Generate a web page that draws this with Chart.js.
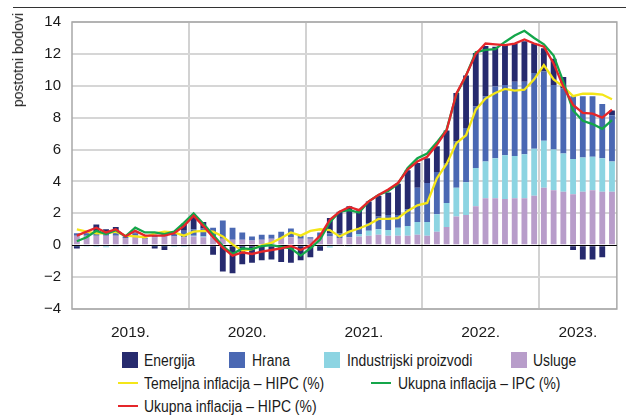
<!DOCTYPE html>
<html>
<head>
<meta charset="utf-8">
<script src="https://cdn.jsdelivr.net/npm/chart.js@4.4.0/dist/chart.umd.min.js"></script>
<style>
  html, body { margin: 0; padding: 0; background: #fff; }
  #wrap { position: relative; width: 626px; height: 416px; overflow: hidden;
          font-family: "Liberation Sans", Arial, sans-serif; color: #1a1a1a; }
  #c { position: absolute; left: 0; top: 0; }
  .topline { position: absolute; left: 13px; right: 0; top: 7px; border-top: 1px solid #333; }
  .ytitle { position: absolute; left: 10px; top: 13px; font-size: 14px; line-height: 16px;
            writing-mode: vertical-rl; transform: rotate(180deg); white-space: nowrap; }
  .leg { position: absolute; font-size: 16px; line-height: 18px; white-space: nowrap;
         transform: scaleX(0.87); transform-origin: 0 50%; }
  .box { position: absolute; width: 16px; height: 16px; }
  .ln { position: absolute; width: 20px; height: 2px; }
</style>
</head>
<body>
<div id="wrap">
  <div class="topline"></div>
  <canvas id="c" width="626" height="345"></canvas>
  <div class="ytitle" id="ytitle"></div>
  <div id="legend"></div>
</div>
<script>
// ---------- data ----------
const years = ['2019.', '2020.', '2021.', '2022.', '2023.'];
const monthsInYear = [12, 12, 12, 12, 8];
const yTicks = [-4, -2, 0, 2, 4, 6, 8, 10, 12, 14];
const yAxisTitle = 'postotni bodovi';

// contributions (percentage points), Jan 2019 – Aug 2023
const usluge = [
  0.6, 0.6, 0.6, 0.6, 0.6, 0.45, 0.55, 0.4, 0.5, 0.55, 0.55, 0.5,
  0.55, 0.5, 0.5, 0.4, 0.35, 0.35, 0.3, 0.35, 0.4, 0.45, 0.5, 0.4,
  0.4, 0.5, 0.55, 0.45, 0.5, 0.55, 0.6, 0.65, 0.6, 0.6, 0.6, 0.65,
  0.6, 0.85, 1.15, 1.8, 1.9, 2.45, 2.95, 2.95, 2.9, 2.95, 2.95, 3.1,
  3.6, 3.45, 3.35, 3.2, 3.35, 3.45, 3.35, 3.35
];
const industrijski = [
  -0.05, -0.05, -0.1, -0.12, -0.05, -0.05, 0.05, 0.0, -0.05, -0.05, -0.1, -0.1,
  0.05, 0.05, 0.05, 0.0, 0.0, 0.0, 0.0, 0.0, 0.0, 0.0, 0.0, 0.0,
  -0.05, -0.05, -0.15, 0.0, -0.05, 0.15, 0.3, 0.35, 0.35, 0.5, 0.6, 0.8,
  0.85, 1.1, 1.5, 1.8, 2.05, 2.4, 2.3, 2.5, 2.75, 2.65, 2.75, 2.95,
  2.95, 2.55, 2.4, 2.2, 2.15, 2.1, 2.1, 1.9
];
const hrana = [
  0.15, 0.15, 0.25, 0.15, 0.15, 0.1, 0.15, 0.05, 0.15, 0.2, 0.1, 0.4,
  0.4, 0.5, 0.55, 1.15, 0.75, 0.45, 0.25, 0.3, 0.25, 0.4, 0.55, 0.2,
  0.1, 0.3, 0.2, 0.3, 0.35, 0.3, 0.5, 0.8, 0.95, 0.8, 1.05, 2.15,
  2.45, 2.65, 2.5, 2.9, 3.4, 3.85, 4.1, 4.5, 4.4, 4.65, 4.55, 4.75,
  4.35, 4.05, 4.1, 3.95, 3.85, 3.8, 3.4, 2.9
];
const energija = [
  -0.15, 0.05, 0.45, 0.25, 0.4, 0.0, 0.05, 0.0, -0.15, -0.25, 0.05, 0.45,
  0.85, 0.4, -0.6, -1.65, -1.75, -1.2, -1.1, -0.95, -0.9, -1.05, -1.1, -0.95,
  -0.7, -0.3, 0.95, 1.35, 1.6, 1.2, 1.35, 1.3, 1.4, 1.95, 2.45, 1.55,
  1.55, 1.6, 2.05, 3.05, 3.3, 3.35, 3.15, 2.5, 2.5, 2.4, 2.55, 1.85,
  1.45, 1.65, 0.7, -0.3, -0.9, -0.9, -0.75, 0.3
];
// inflation rates (%)
const temeljnaHIPC = [
  1.0, 0.85, 0.75, 0.75, 0.85, 0.6, 0.55, 0.5, 0.75, 0.85, 0.8, 0.6,
  0.85, 0.9, 0.85, 0.55, 0.05, -0.35, -0.25, 0.0, 0.15, 0.45, 0.8, 0.6,
  0.9, 1.0, 0.95, 0.55, 0.85, 1.05, 1.3, 1.65, 1.65, 1.7, 2.15, 2.5,
  2.65, 4.2, 5.1, 6.4, 6.9, 8.5, 9.2, 9.55, 9.8, 9.7, 9.75, 10.4,
  11.3, 10.4, 9.95, 9.35, 9.5, 9.5, 9.45, 9.15
];
const ukupnaIPC = [
  0.25, 0.5, 0.9, 0.7, 0.95, 0.55, 1.1, 0.8, 0.8, 0.7, 0.85, 1.4,
  2.0, 1.35, 0.65, -0.05, -0.55, -0.2, -0.25, -0.05, 0.0, -0.1, -0.2, -0.65,
  -0.2, 0.35, 1.45, 2.1, 2.2, 2.05, 2.75, 3.15, 3.4, 3.85, 4.85, 5.45,
  5.75, 6.45, 7.25, 9.45, 10.65, 12.1, 12.25, 12.3, 12.75, 13.15, 13.45, 13.0,
  12.6, 11.9, 10.25, 8.45, 7.8, 7.6, 7.3, 7.85
];
const ukupnaHIPC = [
  0.6, 0.85, 1.1, 0.8, 1.0, 0.55, 0.9, 0.6, 0.6, 0.6, 0.75, 1.2,
  1.85, 1.2, 0.5, -0.15, -0.65, -0.45, -0.55, -0.4, -0.3, -0.2, -0.05, -0.3,
  0.0, 0.6, 1.6, 2.1, 2.4, 2.2, 2.75, 3.15, 3.5, 3.9, 4.75, 5.25,
  5.55, 6.3, 7.2, 9.5, 10.65, 12.0, 12.65, 12.6, 12.55, 12.65, 12.9, 12.65,
  12.45, 11.4, 9.95, 8.8, 8.3, 8.25, 8.0, 8.5
];

const barNames = ['Usluge', 'Industrijski proizvodi', 'Hrana', 'Energija'];
const barColors = ['#b89dca', '#8cd4e2', '#4a68b3', '#262a6e'];
const lineNames = ['Temeljna inflacija – HIPC (%)', 'Ukupna inflacija – IPC (%)', 'Ukupna inflacija – HIPC (%)'];
const lineColors = ['#f4e619', '#14a64a', '#e5262a'];

// ---------- categories ----------
const categories = [];
years.forEach((y, i) => { for (let m = 1; m <= monthsInYear[i]; m++) categories.push(m + '/' + y); });

function yearLabel(index) {
  let acc = 0;
  for (let i = 0; i < years.length; i++) {
    const n = monthsInYear[i];
    if (index < acc + n) return (index - acc) === Math.floor(n / 2) ? years[i] : '';
    acc += n;
  }
  return '';
}
function isYearStart(index) {
  let acc = 0;
  for (let i = 0; i < years.length; i++) { if (index === acc && index > 0) return true; acc += monthsInYear[i]; }
  return false;
}

const barSeries = [usluge, industrijski, hrana, energija];
const lineSeries = [temeljnaHIPC, ukupnaIPC, ukupnaHIPC];
const lineOrder = [2, 1, 0];

const datasets = [];
barSeries.forEach((d, i) => datasets.push({
  type: 'bar', label: barNames[i], data: d, backgroundColor: barColors[i],
  stack: 'bars', order: 3, barPercentage: 0.6, categoryPercentage: 1.0, borderWidth: 0
}));
lineSeries.forEach((d, i) => datasets.push({
  type: 'line', label: lineNames[i], data: d, borderColor: lineColors[i], backgroundColor: lineColors[i],
  borderWidth: 2.3, pointRadius: 0, tension: 0, fill: false, stack: 'line' + i, order: lineOrder[i]
}));

const framePlugin = {
  id: 'frame',
  beforeDatasetsDraw(chart) {
    const { ctx, chartArea: a } = chart;
    ctx.save();
    ctx.strokeStyle = '#a8a8a8';
    ctx.lineWidth = 1.5;
    ctx.strokeRect(a.left, a.top, a.right - a.left, a.bottom - a.top);
    ctx.restore();
  },
  afterDatasetDraw(chart, args) {
    if (args.index !== 0) return;
    const { ctx, chartArea: a, scales } = chart;
    const y = Math.round(scales.y.getPixelForValue(0)) + 0.5;
    ctx.save();
    ctx.strokeStyle = '#000';
    ctx.lineWidth = 1;
    ctx.beginPath(); ctx.moveTo(a.left, y); ctx.lineTo(a.right, y); ctx.stroke();
    ctx.restore();
  }
};

const FONT = '"Liberation Sans", Arial, sans-serif';

new Chart(document.getElementById('c'), {
  data: { labels: categories, datasets },
  options: {
    responsive: false, animation: false, devicePixelRatio: 1,
    layout: { padding: { left: 0, right: 1, top: 22, bottom: 0 } },
    plugins: { legend: { display: false }, tooltip: { enabled: false } },
    scales: {
      x: {
        stacked: true, offset: true,
        grid: {
          offset: true, drawTicks: false, lineWidth: 2,
          color: ctx => isYearStart(ctx.index) ? '#d2d2d2' : 'rgba(0,0,0,0)'
        },
        border: { display: false },
        ticks: {
          autoSkip: false, maxRotation: 0, minRotation: 0, padding: 14, labelOffset: -4.94,
          color: '#1a1a1a', font: { family: FONT, size: 15.5 },
          callback: (v, i) => yearLabel(i)
        },
        afterFit: s => { s.height = 36; }
      },
      y: {
        stacked: true,
        min: yTicks[0], max: yTicks[yTicks.length - 1],
        afterBuildTicks: s => { s.ticks = yTicks.map(v => ({ value: v })); },
        grid: {
          drawTicks: false, lineWidth: 2,
          color: ctx => (ctx.tick && ctx.tick.value === 0) ? 'rgba(0,0,0,0)' : '#d6d6d6'
        },
        border: { display: false },
        ticks: {
          padding: 11, color: '#1a1a1a', font: { family: FONT, size: 15 },
          callback: v => (v < 0 ? '\u2212' + Math.abs(v) : String(v))
        },
        afterFit: s => { s.width = 72; }
      }
    }
  },
  plugins: [framePlugin]
});

// ---------- HTML legend & axis title ----------
document.getElementById('ytitle').textContent = yAxisTitle;
const legend = document.getElementById('legend');
const barLegendOrder = [3, 2, 1, 0];               // Energija, Hrana, Industrijski, Usluge
const barLegendPos = [[122, 144], [229, 252], [324, 347], [511, 533]];
barLegendOrder.forEach((si, k) => {
  const b = document.createElement('div');
  b.className = 'box';
  b.style.left = barLegendPos[k][0] + 'px'; b.style.top = '352px';
  b.style.background = barColors[si];
  legend.appendChild(b);
  const t = document.createElement('div');
  t.className = 'leg'; t.textContent = barNames[si];
  t.style.left = barLegendPos[k][1] + 'px'; t.style.top = '352px';
  legend.appendChild(t);
});
const lineLegendPos = [[118, 144, 382, 375], [371, 398, 382, 375], [118, 144, 405, 398]];
lineNames.forEach((n, i) => {
  const p = lineLegendPos[i];
  const l = document.createElement('div');
  l.className = 'ln'; l.style.left = p[0] + 'px'; l.style.top = p[2] + 'px'; l.style.background = lineColors[i];
  legend.appendChild(l);
  const t = document.createElement('div');
  t.className = 'leg'; t.textContent = n; t.style.left = p[1] + 'px'; t.style.top = p[3] + 'px';
  legend.appendChild(t);
});
</script>
</body>
</html>
